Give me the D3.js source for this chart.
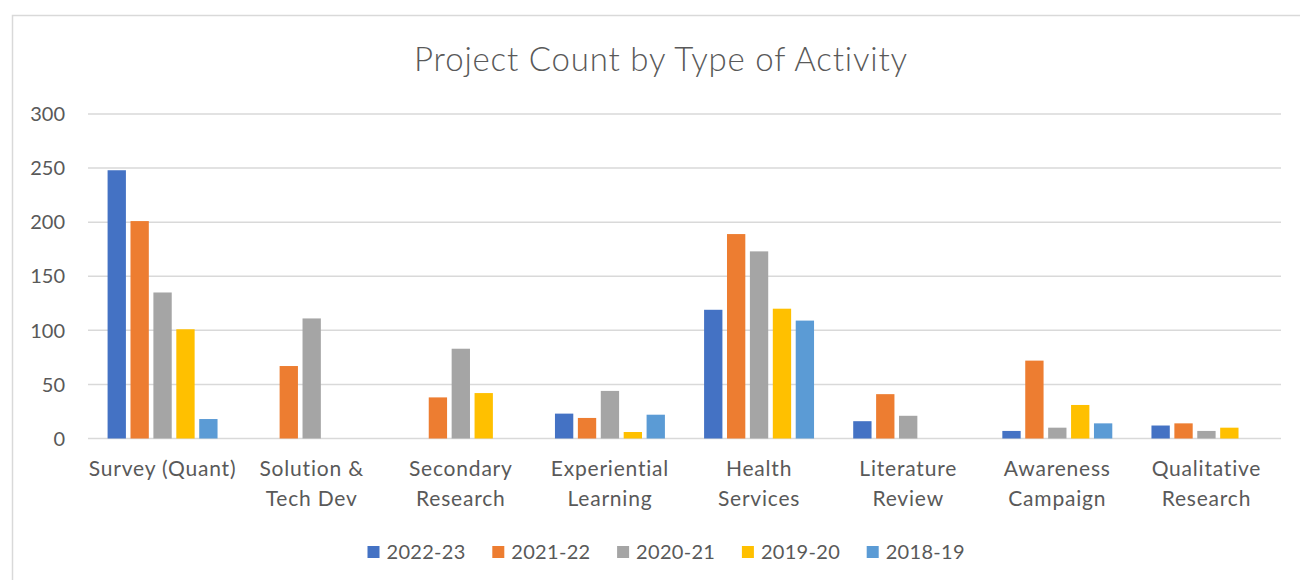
<!DOCTYPE html>
<html>
<head>
<meta charset="utf-8">
<script src="https://cdn.jsdelivr.net/npm/d3@7"></script>
<style>
  body { margin: 0; background: #fff; }
  svg text { font-family: Lato, "Open Sans", sans-serif; fill: #595959; }
</style>
</head>
<body>
<svg id="chart" width="1300" height="580"></svg>
<script>
const categories = [
  ['Survey (Quant)'],
  ['Solution &', 'Tech Dev'],
  ['Secondary', 'Research'],
  ['Experiential', 'Learning'],
  ['Health', 'Services'],
  ['Literature', 'Review'],
  ['Awareness', 'Campaign'],
  ['Qualitative', 'Research']
];
const seriesNames = ['2022-23', '2021-22', '2020-21', '2019-20', '2018-19'];
const seriesColors = ['#4472C4', '#ED7D31', '#A5A5A5', '#FFC000', '#5B9BD5'];

const v2022 = [248, 0, 0, 23, 119, 16, 7, 12];
const v2021 = [201, 67, 38, 19, 189, 41, 72, 14];
const v2020 = [135, 111, 83, 44, 173, 21, 10, 7];
const v2019 = [101, 0, 42, 6, 120, 0, 31, 10];
const v2018 = [18, 0, 0, 22, 109, 0, 14, 0];
const yTicks = [0, 50, 100, 150, 200, 250, 300];

const seriesValues = [v2022, v2021, v2020, v2019, v2018];

const svg = d3.select('#chart');

// chart area border
svg.append('rect')
    .attr('x', 12.5).attr('y', 15.5)
    .attr('width', 1310).attr('height', 600)
    .attr('fill', 'none')
    .attr('stroke', '#d9d9d9')
    .attr('stroke-width', 1.5);

const plot = {left: 88, right: 1281, top: 114, bottom: 438.5};

const catKeys = categories.map(c => c.join(' '));
const x0 = d3.scaleBand()
    .domain(catKeys)
    .range([plot.left, plot.right]);
const x1 = d3.scaleBand()
    .domain(seriesNames)
    .range([0, x0.bandwidth()])
    .paddingInner(0.2)
    .paddingOuter(0.855);
const y = d3.scaleLinear()
    .domain([0, 300])
    .range([plot.bottom, plot.top]);

// title
svg.append('text')
    .attr('x', 661).attr('y', 71)
    .attr('text-anchor', 'middle')
    .style('font-size', '33px')
    .style('font-weight', 300)
    .style('letter-spacing', '0.8px')
    .text('Project Count by Type of Activity');

// gridlines
svg.append('g').selectAll('line').data(yTicks)
  .enter().append('line')
    .attr('x1', plot.left).attr('x2', plot.right)
    .attr('y1', d => y(d)).attr('y2', d => y(d))
    .attr('stroke', '#d9d9d9')
    .attr('stroke-width', 1.5);

// y labels
svg.append('g').selectAll('text').data(yTicks)
  .enter().append('text')
    .attr('x', 65)
    .attr('y', d => y(d))
    .attr('dy', '0.36em')
    .attr('text-anchor', 'end')
    .style('font-size', '20px')
    .text(d => d);

// bars
const rows = [];
categories.forEach((c, i) => {
  seriesNames.forEach((s, j) => {
    rows.push({cat: catKeys[i], series: s, value: seriesValues[j][i], color: seriesColors[j]});
  });
});

svg.append('g').selectAll('rect').data(rows.filter(d => d.value > 0))
  .enter().append('rect')
    .attr('x', d => x0(d.cat) + x1(d.series))
    .attr('y', d => y(d.value))
    .attr('width', x1.bandwidth())
    .attr('height', d => y(0) - y(d.value))
    .attr('fill', d => d.color);

// x labels
const xl = svg.append('g').selectAll('text').data(categories)
  .enter().append('text')
    .attr('text-anchor', 'middle')
    .style('font-size', '21px')
    .style('letter-spacing', '0.8px')
    .attr('transform', (d, i) => `translate(${x0(catKeys[i]) + x0.bandwidth() / 2},476)`);
xl.selectAll('tspan').data(d => d)
  .enter().append('tspan')
    .attr('x', 0)
    .attr('y', (d, i) => i * 30)
    .text(d => d);

// legend
const lx = d3.scaleBand()
    .domain(seriesNames)
    .range([367.5, 367.5 + 5 * 124.8]);
const lg = svg.append('g').selectAll('g').data(seriesNames)
  .enter().append('g')
    .attr('transform', d => `translate(${lx(d)},552)`);
lg.append('rect')
    .attr('x', 0).attr('y', -6)
    .attr('width', 12).attr('height', 12)
    .attr('fill', (d, i) => seriesColors[i]);
lg.append('text')
    .attr('x', 19).attr('y', 0)
    .attr('dy', '0.36em')
    .style('font-size', '20px')
    .style('letter-spacing', '0.3px')
    .text(d => d);
</script>
</body>
</html>
